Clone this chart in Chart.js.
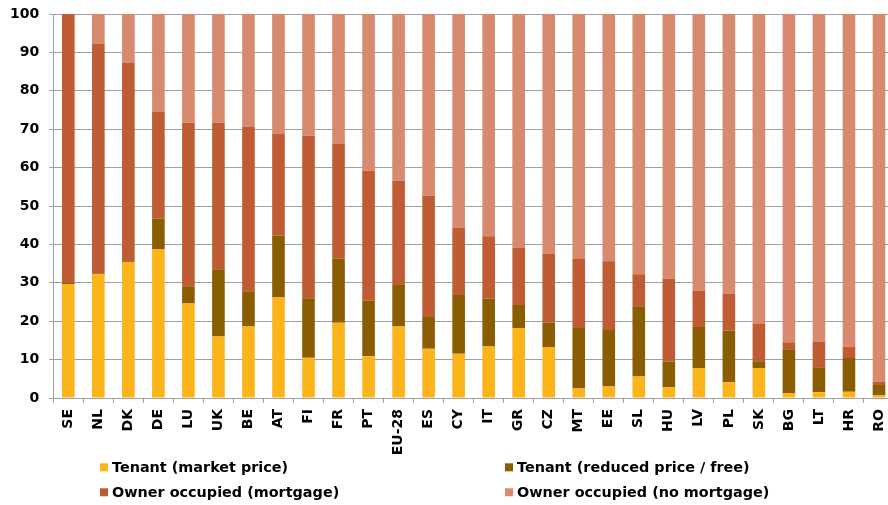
<!DOCTYPE html>
<html>
<head>
<meta charset="utf-8">
<script src="https://cdn.jsdelivr.net/npm/chart.js@4/dist/chart.umd.min.js"></script>
<style>
  html, body { margin: 0; padding: 0; background: #fff; overflow: hidden; }
  #c { display: block; }
</style>
</head>
<body>
<canvas id="c" width="894" height="505" style="width:894px;height:505px"></canvas>
<script>
const categories = ["SE","NL","DK","DE","LU","UK","BE","AT","FI","FR","PT","EU-28","ES","CY","IT","GR","CZ","MT","EE","SL","HU","LV","PL","SK","BG","LT","HR","RO"];
const tenantMarket  = [29.7,32.2,35.4,38.7,24.6,16.0,18.6,26.2,10.5,19.6,10.9,18.6,12.8,11.5,13.4,18.2,13.3,2.5,3.0,5.6,2.8,7.8,4.1,7.8,1.3,1.5,1.6,0.8];
const tenantReduced = [0.3,0.3,0.2,8.0,4.5,17.5,9.2,16.1,15.5,16.7,14.5,10.8,8.3,15.3,12.5,6.0,6.3,15.7,14.7,18.3,6.7,10.7,13.5,1.8,11.4,6.5,8.8,2.6];
const ownerMortgage = [70.0,59.8,51.8,27.9,42.6,38.2,42.9,26.6,42.3,30.0,33.8,27.2,31.6,17.6,16.2,15.0,18.0,18.0,17.9,8.3,21.6,9.5,9.6,9.7,1.8,6.7,3.0,0.9];
const ownerOutright = [0.0,7.7,12.6,25.4,28.3,28.3,29.3,31.1,31.7,33.7,40.8,43.4,47.3,55.6,57.9,60.8,62.4,63.8,64.4,67.8,68.9,72.0,72.8,80.7,85.5,85.3,86.6,95.7];
const yTicks = [0,10,20,30,40,50,60,70,80,90,100];
const seriesLabels = ["Tenant (market price)","Tenant (reduced price / free)","Owner occupied (mortgage)","Owner occupied (no mortgage)"];
const seriesColors = ["#FBB41A","#8A5D00","#BF5C33","#D88A6E"];

const FONT = "'DejaVu Sans', Verdana, sans-serif";
const GRID = "#a0a0a0";

const legendPlugin = {
  id: 'customLegend',
  afterDraw(chart) {
    const ctx = chart.ctx;
    const slots = [
      {x: 100, y: 467.3}, {x: 505, y: 467.3},
      {x: 100, y: 492.3}, {x: 505, y: 492.3}
    ];
    ctx.save();
    ctx.font = "bold 14.4px " + FONT;
    ctx.textBaseline = 'middle';
    ctx.textAlign = 'left';
    chart.data.datasets.forEach((ds, i) => {
      const s = slots[i];
      ctx.fillStyle = ds.backgroundColor;
      ctx.fillRect(s.x, s.y - 4, 8, 8);
      ctx.fillStyle = '#000';
      ctx.fillText(ds.label, s.x + 12, s.y + 0.5);
    });
    ctx.restore();
  }
};

const seriesData = [tenantMarket, tenantReduced, ownerMortgage, ownerOutright];

new Chart(document.getElementById('c'), {
  type: 'bar',
  data: {
    labels: categories,
    datasets: seriesData.map((d, i) => ({
      label: seriesLabels[i],
      data: d,
      backgroundColor: seriesColors[i],
      borderWidth: 0,
      barPercentage: 0.42,
      categoryPercentage: 1.0
    }))
  },
  options: {
    responsive: false,
    animation: false,
    devicePixelRatio: 1,
    layout: { padding: { top: 14, right: 0, bottom: 0, left: 0 } },
    plugins: { legend: { display: false }, tooltip: { enabled: false } },
    scales: {
      x: {
        stacked: true,
        grid: { offset: true, drawOnChartArea: false, drawTicks: true, tickLength: 5, color: GRID },
        border: { color: GRID },
        ticks: {
          autoSkip: false, maxRotation: 90, minRotation: 90, padding: 6,
          color: '#000', font: { family: FONT, size: 14, weight: 'bold' }
        },
        afterFit(scale) { scale.height = 107; scale.paddingLeft = 0; scale.paddingRight = 0; }
      },
      y: {
        stacked: true,
        min: 0, max: 100,
        afterBuildTicks(scale) { scale.ticks = yTicks.map(v => ({ value: v })); },
        grid: { color: GRID, tickLength: 4, drawTicks: true },
        border: { color: GRID },
        ticks: {
          padding: 10, color: '#000',
          font: { family: FONT, size: 14, weight: 'bold' }
        },
        afterFit(scale) { scale.width = 53.3; scale.paddingTop = 0; scale.paddingBottom = 0; }
      }
    }
  },
  plugins: [legendPlugin]
});
</script>
</body>
</html>
